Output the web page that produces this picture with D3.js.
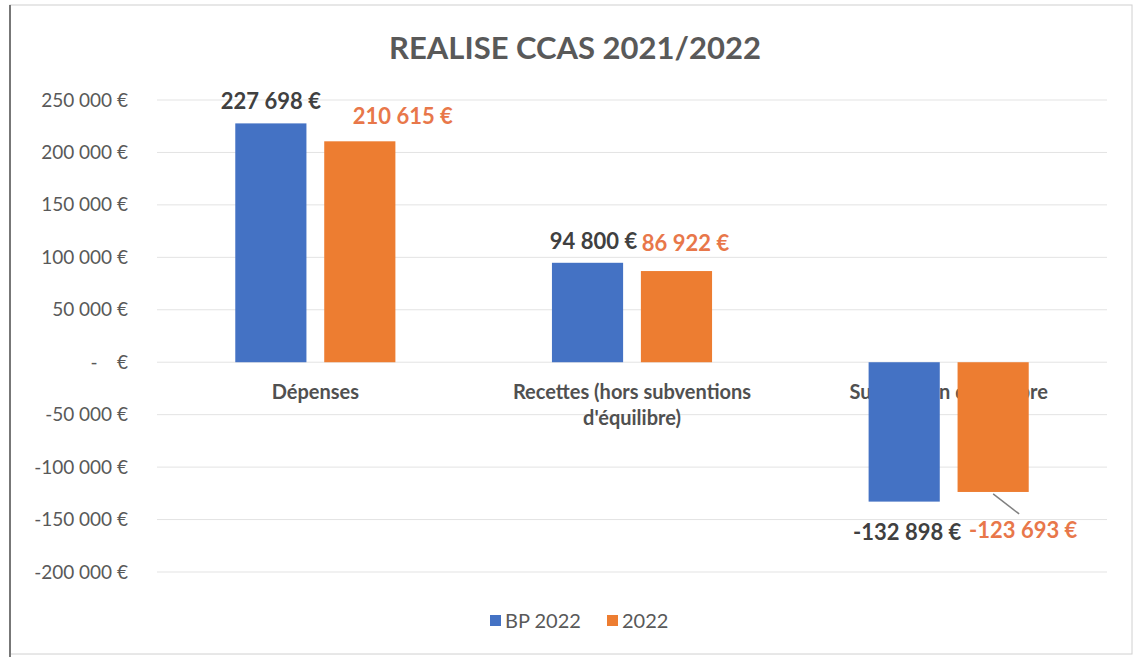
<!DOCTYPE html>
<html>
<head>
<meta charset="utf-8">
<script src="https://cdn.jsdelivr.net/npm/d3@7"></script>
<style>
  body { margin: 0; background: #fff; }
  svg { font-family: Lato, "Open Sans", sans-serif; }
</style>
</head>
<body>
<div id="chart"></div>
<script>
const categories = ["Dépenses", "Recettes (hors subventions d'équilibre)", "Subvention d'équilibre"];
const series = ["BP 2022", "2022"];
const bp2022 = [227698, 94800, -132898];
const real2022 = [210615, 86922, -123693];
const yTicks = [250000, 200000, 150000, 100000, 50000, 0, -50000, -100000, -150000, -200000];

const width = 1134;
const height = 657;
const colors = ["#4472C4", "#ED7D31"];
const labelColors = ["#404040", "#E8774A"];

const svg = d3.select("#chart")
  .append("svg")
  .attr("width", width)
  .attr("height", height);

// scan frame
svg.append("rect")
  .attr("x", 10).attr("y", 5)
  .attr("width", width - 12).attr("height", height - 8)
  .attr("fill", "none")
  .attr("stroke", "#d0d0d0");
svg.append("line")
  .attr("x1", 10).attr("x2", 10).attr("y1", 5).attr("y2", height)
  .attr("stroke", "#777").attr("stroke-width", 2);

const x = d3.scaleBand()
  .domain(categories)
  .range([157, 1107]);

const xs = d3.scaleBand()
  .domain(series)
  .range([0, x.bandwidth()])
  .paddingInner(0.2)
  .paddingOuter(0.88);

const y = d3.scaleLinear()
  .domain([-200000, 250000])
  .range([572, 100]);

const fmt = v => v === 0 ? "-    €"
  : d3.format(",")(v).replace(/,/g, "\u202f").replace("\u2212", "-") + " €";

// gridlines
svg.append("g")
  .selectAll("line")
  .data(yTicks)
  .join("line")
  .attr("x1", 157).attr("x2", 1107)
  .attr("y1", d => y(d)).attr("y2", d => y(d))
  .attr("stroke", "#e3e3e3");

// y axis
const yAxis = d3.axisLeft(y).tickValues(yTicks).tickSize(0).tickPadding(0).tickFormat(fmt);
const gy = svg.append("g").attr("transform", "translate(128,0)").call(yAxis);
gy.select(".domain").remove();
gy.selectAll("text")
  .attr("font-size", 19)
  .attr("fill", "#595959")
  .attr("font-family", "Lato, sans-serif")
  .style("white-space", "pre");

// category labels (drawn under bars, like the original)
const catLines = [["Dépenses"], ["Recettes (hors subventions", "d'équilibre)"], ["Subvention d'équilibre"]];
const cat = svg.append("g").selectAll("text")
  .data(categories)
  .join("text")
  .attr("x", d => x(d) + x.bandwidth() / 2)
  .attr("y", 399)
  .attr("text-anchor", "middle")
  .attr("font-size", 20)
  .attr("font-weight", "bold")
  .attr("fill", "#505050");
cat.selectAll("tspan")
  .data((d, i) => catLines[i])
  .join("tspan")
  .attr("x", function () { return d3.select(this.parentNode).attr("x"); })
  .attr("dy", (d, i) => i === 0 ? 0 : 26)
  .text(d => d);

// bars
const rows = categories.map((c, i) => ({ cat: c, values: [bp2022[i], real2022[i]] }));
const groups = svg.append("g").selectAll("g")
  .data(rows)
  .join("g")
  .attr("transform", d => `translate(${x(d.cat)},0)`);

groups.selectAll("rect")
  .data(d => d.values.map((v, j) => ({ s: series[j], v, j })))
  .join("rect")
  .attr("x", d => xs(d.s))
  .attr("y", d => y(Math.max(0, d.v)))
  .attr("width", xs.bandwidth())
  .attr("height", d => Math.abs(y(d.v) - y(0)))
  .attr("fill", d => colors[d.j]);

// data labels (manually nudged like the original)
const nudge = [
  [[0, -14], [43, -17]],
  [[6, -14], [9, -20]],
  [[3, 38], [30, 46]]
];
groups.each(function (d, i) {
  const g = d3.select(this);
  d.values.forEach((v, j) => {
    const cx = xs(series[j]) + xs.bandwidth() / 2;
    const edge = y(v);
    const [dx, dy] = nudge[i][j];
    if (i === 2 && j === 1) {
      g.append("line")
        .attr("x1", cx).attr("y1", edge + 2)
        .attr("x2", cx + dx - 4).attr("y2", edge + dy - 24)
        .attr("stroke", "#808080").attr("stroke-width", 1.5);
    }
    g.append("text")
      .attr("x", cx + dx)
      .attr("y", edge + dy)
      .attr("text-anchor", "middle")
      .attr("font-size", 22)
      .attr("font-weight", "bold")
      .attr("fill", labelColors[j])
      .text(fmt(v));
  });
});

// title
svg.append("text")
  .attr("x", 575)
  .attr("y", 59)
  .attr("text-anchor", "middle")
  .attr("font-size", 31)
  .attr("font-weight", "bold")
  .attr("fill", "#595959")
  .text("REALISE CCAS 2021/2022");

// legend
const legend = svg.append("g").attr("transform", "translate(490,621)");
const items = legend.selectAll("g")
  .data(series)
  .join("g")
  .attr("transform", (d, i) => `translate(${i === 0 ? 0 : 117},0)`);
items.append("rect")
  .attr("x", 0).attr("y", -6)
  .attr("width", 11).attr("height", 11)
  .attr("fill", (d, i) => colors[i]);
items.append("text")
  .attr("x", 15).attr("y", 7)
  .attr("font-size", 20)
  .attr("fill", "#595959")
  .text(d => d);
</script>
</body>
</html>
